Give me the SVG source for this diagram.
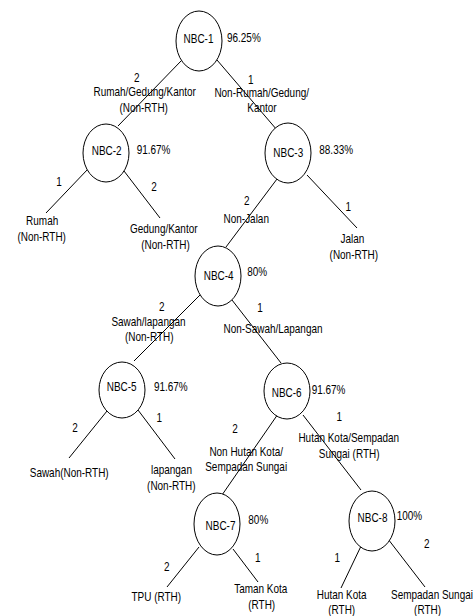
<svg xmlns="http://www.w3.org/2000/svg" width="474" height="616" viewBox="0 0 474 616">
<style>
.n{fill:#fff;stroke:#000;stroke-width:1}
.e{stroke:#000;stroke-width:1;fill:none}
text{font-family:"Liberation Sans",Arial,sans-serif;font-size:12px;fill:#000;text-anchor:middle}
.p{text-anchor:start}
</style>
<rect width="474" height="616" fill="#fff"/>
<g id="connectors">
<line class="e" x1="181" y1="61" x2="118" y2="126"/>
<line class="e" x1="217" y1="60" x2="277" y2="130"/>
<line class="e" x1="88" y1="169" x2="46" y2="213"/>
<line class="e" x1="124" y1="171" x2="160" y2="218"/>
<line class="e" x1="277" y1="179" x2="226" y2="247"/>
<line class="e" x1="307" y1="175" x2="357" y2="228"/>
<line class="e" x1="200" y1="295" x2="134" y2="361"/>
<line class="e" x1="232" y1="300" x2="281" y2="363"/>
<line class="e" x1="107" y1="411" x2="69" y2="458"/>
<line class="e" x1="138" y1="410" x2="175" y2="459"/>
<line class="e" x1="278" y1="414" x2="222" y2="495"/>
<line class="e" x1="303" y1="415" x2="361" y2="490"/>
<line class="e" x1="199" y1="547" x2="167" y2="587"/>
<line class="e" x1="233" y1="549" x2="258" y2="582"/>
<line class="e" x1="362" y1="544" x2="341" y2="588"/>
<line class="e" x1="388" y1="539" x2="425" y2="587"/>
</g>
<g id="NBC-1"><ellipse class="n" cx="199" cy="41" rx="23" ry="30"/></g>
<g id="NBC-2"><ellipse class="n" cx="106" cy="153" rx="23" ry="29"/></g>
<g id="NBC-3"><ellipse class="n" cx="288" cy="153" rx="23" ry="30"/></g>
<g id="NBC-4"><ellipse class="n" cx="218" cy="276" rx="23" ry="30"/></g>
<g id="NBC-5"><ellipse class="n" cx="122" cy="390" rx="23" ry="28"/></g>
<g id="NBC-6"><ellipse class="n" cx="287" cy="391" rx="23" ry="28"/></g>
<g id="NBC-7"><ellipse class="n" cx="217" cy="524" rx="23" ry="31"/></g>
<g id="NBC-8"><ellipse class="n" cx="372" cy="521" rx="23" ry="30"/></g>
<g id="labels" transform="scale(0.83 1)">
<text x="239.2" y="43.5">NBC-1</text>
<text class="p" x="273.5" y="42">96.25%</text>
<text x="164.7" y="82">2</text>
<text x="174.3" y="96.5">Rumah/Gedung/Kantor</text>
<text x="173.1" y="112.5">(Non-RTH)</text>
<text x="302" y="84">1</text>
<text x="315.3" y="97">Non-Rumah/Gedung/</text>
<text x="315.7" y="112">Kantor</text>
<text x="128.6" y="155">NBC-2</text>
<text class="p" x="164.7" y="154">91.67%</text>
<text x="347.3" y="157.5">NBC-3</text>
<text class="p" x="384.7" y="154">88.33%</text>
<text x="71.1" y="186.5">1</text>
<text x="185.5" y="191">2</text>
<text x="50.8" y="225">Rumah</text>
<text x="50.2" y="241.5">(Non-RTH)</text>
<text x="197.3" y="233.5">Gedung/Kantor</text>
<text x="199.4" y="249">(Non-RTH)</text>
<text x="297.2" y="205">2</text>
<text x="296.7" y="223">Non-Jalan</text>
<text x="419.6" y="211">1</text>
<text x="424.7" y="243">Jalan</text>
<text x="426.3" y="259">(Non-RTH)</text>
<text x="263.5" y="280">NBC-4</text>
<text class="p" x="297.9" y="276.5">80%</text>
<text x="194.8" y="311.5">2</text>
<text x="178.9" y="326">Sawah/lapangan</text>
<text x="179.8" y="341">(Non-RTH)</text>
<text x="313.2" y="312.5">1</text>
<text x="328.9" y="333">Non-Sawah/Lapangan</text>
<text x="146.6" y="391.5">NBC-5</text>
<text class="p" x="185.5" y="391.5">91.67%</text>
<text x="345.4" y="397">NBC-6</text>
<text class="p" x="375.5" y="394">91.67%</text>
<text x="90.4" y="432.5">2</text>
<text x="191.9" y="422.5">1</text>
<text x="283.1" y="433">2</text>
<text x="408.8" y="421">1</text>
<text x="420.2" y="442.5">Hutan Kota/Sempadan</text>
<text x="420.7" y="458">Sungai (RTH)</text>
<text x="296.6" y="456">Non Hutan Kota/</text>
<text x="296.6" y="471">Sempadan Sungai</text>
<text x="83.4" y="477">Sawah(Non-RTH)</text>
<text x="206.6" y="474">lapangan</text>
<text x="206.4" y="490">(Non-RTH)</text>
<text x="265.7" y="530">NBC-7</text>
<text class="p" x="299.2" y="524">80%</text>
<text x="448.8" y="522.5">NBC-8</text>
<text class="p" x="477.9" y="520">100%</text>
<text x="514.1" y="548.5">2</text>
<text x="406.4" y="562.5">1</text>
<text x="200.8" y="571">2</text>
<text x="310.5" y="562">1</text>
<text x="188.3" y="601.5">TPU (RTH)</text>
<text x="314.2" y="593.5">Taman Kota</text>
<text x="315.3" y="609">(RTH)</text>
<text x="411.7" y="599">Hutan Kota</text>
<text x="411.7" y="614.5">(RTH)</text>
<text x="520.5" y="599.5">Sempadan Sungai</text>
<text x="515.1" y="614.5">(RTH)</text>
</g>
</svg>
